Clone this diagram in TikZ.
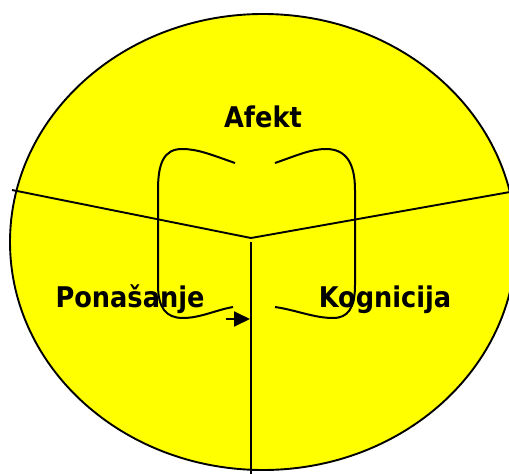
\documentclass[tikz,border=0pt]{standalone}
\usepackage{fontspec}
\setmainfont{DejaVu Sans}
\newfontfamily\labelfont{DejaVu Sans Condensed}
\usetikzlibrary{arrows.meta}
\definecolor{circleyellow}{RGB}{255,255,0}
\tikzset{
  part/.style={font=\labelfont\bfseries\fontsize{28.5}{32}\selectfont,anchor=base,inner sep=0pt},
  loop/.style={line width=2pt}
}

\begin{document}
\begin{tikzpicture}[x=1pt,y=-1pt,>=Triangle,line width=1.9pt]
  \useasboundingbox (0,0) rectangle (509,474);
  \clip (0,0) rectangle (509,474);
  \filldraw[fill=circleyellow] (263,242) ellipse [x radius=253, y radius=228];
  % the three parts
  \coordinate (C) at (251,238);
  \coordinate (L) at (12,190);
  \coordinate (R) at (510,192);
  \coordinate (T) at (251,242);
  \coordinate (B) at (251,474);
  \draw (L) -- (C) -- (R);
  \draw (T) -- (B);
  \node[part] (afekt) at (263,127) {Afekt};
  \node[part] (pon) at (130,307) {Ponašanje};
  \node[part] (kog) at (385,307) {Kognicija};
  % loops
  \draw[loop] (235,163) .. controls (212,155) and (198,149) .. (182,149)
    .. controls (164,149) and (158,163) .. (158,190) -- (158,285)
    .. controls (158,308) and (166,318) .. (183,318)
    .. controls (200,318) and (216,310) .. (233,307);
  \draw[loop] (275,163) .. controls (298,155) and (311,149) .. (326,149)
    .. controls (346,149) and (355,163) .. (355,190) -- (355,285)
    .. controls (355,308) and (348,318) .. (333,318)
    .. controls (314,318) and (296,310) .. (275,307);
  \coordinate (arr) at (226,319);
  \coordinate (tip) at (250,319);
  \draw[-{Triangle[length=16pt,width=15pt]}] (arr) -- (tip);
\end{tikzpicture}
\end{document}
